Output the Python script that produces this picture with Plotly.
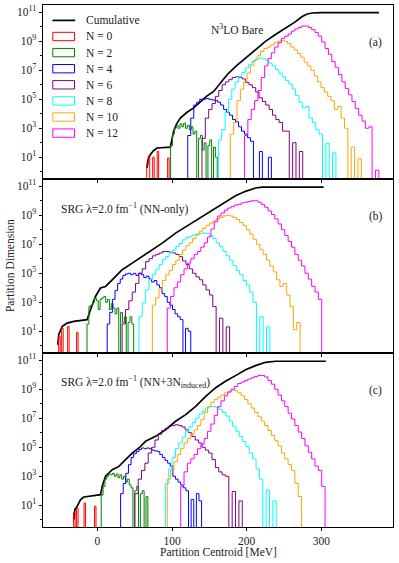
import plotly.graph_objects as go
from plotly.subplots import make_subplots

# histogram values are log10(partition dimension) per bin, None = empty bin
# bins: (first edge [MeV], bin width [MeV])

# ---- panel (a): N3LO bare ----
bare_cum_x = [66.3, 67.5, 70.7, 75, 79.7, 90, 97.6, 102, 106, 111, 120, 128.9, 137.9, 146,
              155.7, 165, 173.7, 186, 198.3, 212, 225.1, 238, 252, 264, 274.4, 281, 287.8, 300, 377.2]
bare_cum = [0.26, 0.8, 1.18, 1.45, 1.64, 1.66, 1.7, 2.78, 3.3, 3.7, 4.1, 4.4, 4.85, 5.2,
            5.54, 6.1, 6.69, 7.3, 7.84, 8.4, 8.99, 9.45, 9.91, 10.3, 10.71, 10.88, 10.95, 10.97, 10.97]
bare_bins = {0: (66, 2.0), 2: (98, 2.5), 4: (121, 4.0), 6: (140, 4.5),
             8: (162, 4.5), 10: (178, 4.5), 12: (197, 4.5)}
bare_n0 = [0.5, 1.1, None, None, 1.0, None, None, 1.4, None, None, None, None, None, None, 0.95]
bare_n2 = [1.8, 2.6, 3.0, 3.2, 3.0, 3.3, 3.1, 3.35, 3.0, 3.2, 2.9, 3.1, 2.6, 2.8, None,
           2.3, 2.5, 1.5, 2.0, None, 1.8, 2.2, None, 1.7, 1.0]
bare_n4 = [2.5, 3.7, 4.6, 4.8, 5.0, 5.0, 5.05, 5.0, 4.95, 4.9, 4.8, 4.6, 4.3, 4.1, 3.9,
           3.6, 3.45, 3.1, 2.8, 2.6, 2.35, 2.1, None, None, 1.4, None, None, 1.0]
bare_n6 = [2.3, 3.7, 4.3, 4.7, 5.2, 5.6, 6.0, 6.2, 6.35, 6.5, 6.55, 6.5, 6.4, 6.15, 6.0,
           5.8, 5.5, 5.1, 4.85, 4.6, 4.3, 3.9, 3.6, 3.4, 2.8, 2.8, None, 2.0, None, 1.4]
bare_n8 = [2.2, 2.9, 4.1, 5.0, 5.7, 6.2, 6.55, 6.85, 7.15, 7.4, 7.6, 7.75, 7.85, 7.8, 7.7,
           7.5, 7.3, 7.05, 6.8, 6.55, 6.3, 6.05, 5.7, 5.25, 4.8, 4.4, 4.5, 3.7, 3.4, 2.9,
           2.6, None, 1.95, None, 1.3]
bare_n10 = [2.6, 3.4, 4.9, 5.7, 6.2, 6.8, 7.3, 7.7, 8.0, 8.3, 8.5, 8.6, 8.75, 8.9, 9.0,
            9.05, 9.0, 8.85, 8.6, 8.4, 8.15, 7.9, 7.55, 7.3, 7.0, 6.6, 6.2, 5.8, 5.5, 5.2,
            4.9, 4.3, 4.5, 3.7, 3.0, None, 1.7, None, 0.9]
bare_n12 = [2.5, 3.6, 4.3, 4.9, 5.6, 6.5, 7.3, 7.8, 8.2, 8.6, 8.9, 9.2, 9.35, 9.5, 9.7,
            9.85, 9.95, 10.05, 10.05, 9.95, 9.8, 9.6, 9.35, 8.95, 8.5, 8.1, 7.6, 7.2, 6.7,
            6.2, 5.75, 5.3, 4.85, 4.35, 3.9, 3.5, 3.0, 3.1, None, 0.1]

# ---- panel (b): SRG NN-only ----
srg_cum_x = [-53.2, -51.9, -47.4, -40.7, -31.7, -13.9, -9.4, -2.7, 4.0, 10.8, 19.7, 33.1,
             46.6, 60, 73.4, 86.8, 104.7, 122.6, 140.5, 158, 171.5, 185, 198.4, 211.8, 220.8, 303]
srg_cum = [0.07, 0.76, 1.33, 1.56, 1.68, 1.8, 2.48, 3.4, 3.98, 4.09, 4.55, 5.24,
           5.7, 6.16, 6.62, 7.08, 7.77, 8.35, 8.92, 9.5, 9.96, 10.35, 10.65, 10.88, 10.94, 10.94]
srg_bins = {0: (-52, 2.0), 2: (-14, 2.5), 4: (13, 3.5), 6: (33, 4.5),
            8: (55.5, 4.5), 10: (73.5, 4.5), 12: (93.5, 4.5)}
srg_n0 = [0.65, None, 1.2, None, None, None, 1.33, None, None, None, None, None, 0.92]
srg_n2 = [1.5, 2.7, 2.8, 3.0, 3.3, 3.1, 2.5, 3.2, 3.3, 3.4, 3.0, 3.2, 2.5, 2.9, 2.6,
          2.2, 2.6, None, 2.3, 1.6, 2.0, None, 1.6, 2.0, 1.5]
srg_n4 = [1.5, 2.3, 3.2, 3.8, 4.3, 4.6, 4.85, 4.95, 5.0, 4.9, 5.0, 4.85, 5.0, 4.9, 4.7,
          4.8, 4.6, 4.4, 4.5, 4.2, 4.0, 3.6, 3.4, 3.0, 2.8, 2.5, 2.2, 2.0, 1.8, None, 1.2, 1.0]
srg_n6 = [1.5, 2.5, 3.1, 3.7, 4.3, 5.0, 5.3, 5.8, 6.0, 6.2, 6.3, 6.4, 6.5, 6.5, 6.45,
          6.4, 6.3, 6.15, 5.85, 5.6, 5.3, 5.0, 4.75, 4.55, 4.2, 3.85, 3.5, 2.7, None,
          1.9, None, 1.3]
srg_n8 = [2.0, 2.95, 3.85, 4.55, 4.9, 5.25, 5.6, 5.93, 6.15, 6.4, 6.6, 6.85, 7.05, 7.3,
          7.45, 7.55, 7.65, 7.7, 7.75, 7.77, 7.75, 7.6, 7.4, 7.1, 6.85, 6.5, 6.2, 5.9,
          5.55, 5.2, 4.9, 4.5, 4.2, 3.7, 3.0, None, 2.0, None, 1.3]
srg_n10 = [2.8, 3.3, 3.9, 4.5, 4.9, 5.2, 5.6, 5.9, 6.3, 6.6, 6.9, 7.1, 7.4, 7.65, 7.9,
           8.1, 8.3, 8.45, 8.6, 8.75, 8.85, 8.95, 9.0, 8.95, 8.85, 8.7, 8.5, 8.3, 8.0,
           7.7, 7.35, 7.0, 6.65, 6.3, 5.9, 5.5, 5.1, 4.55, 4.1, 4.3, 3.5, 2.7, 1.1, 1.6]
srg_n12 = [2.6, 3.4, 4.0, 4.4, 4.9, 5.3, 5.7, 6.0, 6.3, 6.5, 6.8, 7.1, 7.5, 8.05, 8.55,
           8.95, 9.15, 9.35, 9.5, 9.6, 9.7, 9.75, 9.85, 9.9, 9.95, 10.0, 10.0, 9.9, 9.75,
           9.55, 9.3, 9.05, 8.75, 8.4, 8.0, 7.6, 7.2, 6.8, 6.3, 5.9, 5.5, 5.0, 4.6, 4.1, 3.7, 3.2]

# ---- panel (c): SRG NN+3N induced ----
ind_cum_x = [-31.7, -30.3, -27.2, -22.7, -18.2, -11.5, 4.2, 6.3, 10.8, 19.8, 28.7, 37.6,
             46.6, 55.5, 64.5, 77.9, 91.3, 104.7, 118.2, 131.6, 145, 158, 171.5, 185,
             198.4, 211.8, 225.3, 238.7, 306]
ind_cum = [0.0, 0.7, 0.93, 1.39, 1.57, 1.62, 1.73, 2.3, 3.0, 3.45, 3.68, 4.14,
           4.6, 4.95, 5.41, 5.75, 6.21, 6.79, 7.25, 7.82, 8.51, 9.09, 9.55, 9.94,
           10.35, 10.63, 10.86, 10.93, 10.93]
ind_bins = {0: (-32, 2.0), 2: (5, 2.5), 4: (31, 3.5), 6: (50, 4.5),
            8: (91, 4.5), 10: (93.5, 4.5), 12: (111.5, 4.5)}
ind_n0 = [0.5, None, 0.8, None, None, None, None, 1.15, None, None, None, None, None, None, 0.93]
ind_n2 = [1.7, 2.3, 2.8, 3.0, 3.15, 3.1, 3.2, 3.0, 3.15, 2.9, 3.1, 2.8, 3.0, 2.6, 2.8,
          2.4, 2.2, None, 2.0, 2.3, None, 1.8, 2.0, None, 1.6]
ind_n4 = [1.8, 2.5, 3.2, 3.8, 4.3, 4.55, 4.7, 4.85, 4.95, 4.9, 4.95, 4.9, 4.8, 4.75, 4.7,
          4.5, 4.3, 4.1, 3.9, 3.7, 3.0, 2.8, 2.6, 2.4, 2.2, 2.0, None, 1.4, None, 1.8, 1.3]
ind_n6 = [1.8, 2.8, 3.4, 3.9, 4.6, 5.0, 5.5, 5.9, 6.15, 6.3, 6.45, 6.5, 6.55, 6.5, 6.4,
          6.2, 6.0, 5.75, 5.5, 5.3, 5.0, 4.8, 4.6, 4.15, 3.6, 3.3, 3.1, 3.0, None, 1.95, None, 1.3]
ind_n8 = [2.5, 3.5, 4.3, 4.9, 5.3, 5.7, 6.1, 6.4, 6.7, 7.0, 7.3, 7.5, 7.7, 7.8, 7.8,
          7.75, 7.6, 7.4, 7.15, 6.8, 6.45, 6.1, 5.75, 5.4, 5.05, 4.6, 4.2, 3.5, 2.8,
          None, 2.05, None, 1.3]
ind_n10 = [2.8, 3.4, 4.0, 4.5, 4.9, 5.3, 5.6, 5.9, 6.2, 6.5, 6.9, 7.4, 7.8, 8.1, 8.3,
           8.45, 8.6, 8.75, 8.85, 8.95, 8.9, 8.75, 8.55, 8.3, 8.0, 7.7, 7.4, 7.1, 6.8,
           6.5, 6.15, 5.8, 5.45, 5.1, 4.6, 4.2, 3.8, 3.4, 2.5, 1.6]
ind_n12 = [2.3, 3.3, 3.9, 4.2, 4.5, 4.9, 5.2, 5.6, 6.1, 6.6, 7.2, 7.8, 8.2, 8.55, 8.8,
           9.0, 9.2, 9.4, 9.5, 9.6, 9.7, 9.8, 9.88, 9.95, 9.95, 9.85, 9.6, 9.35, 9.0,
           8.6, 8.2, 7.8, 7.35, 6.95, 6.5, 6.05, 5.6, 5.1, 4.65, 4.2, 3.7, 3.4, 2.3]

N_VALUES = [0, 2, 4, 6, 8, 10, 12]
COLORS = ['#ff0000', '#008000', '#0000ff', '#800080', '#00ffff', '#ffa500', '#ff00ff']
FONT = 'Liberation Serif'
FS = 11.5
TXT = '#222'
FLOOR = 1e-3  # empty bins: drawn below the axis bottom

panels = [
    (bare_cum_x, bare_cum, bare_bins, [bare_n0, bare_n2, bare_n4, bare_n6, bare_n8, bare_n10, bare_n12]),
    (srg_cum_x, srg_cum, srg_bins, [srg_n0, srg_n2, srg_n4, srg_n6, srg_n8, srg_n10, srg_n12]),
    (ind_cum_x, ind_cum, ind_bins, [ind_n0, ind_n2, ind_n4, ind_n6, ind_n8, ind_n10, ind_n12]),
]


def step_xy(start, width, logs):
    xs, ys = [start], [FLOOR]
    for i, v in enumerate(logs):
        xs.append(start + i * width)
        ys.append(FLOOR if v is None else 10 ** v)
    xs.append(start + len(logs) * width)
    ys.append(FLOOR)
    return xs, ys


fig = make_subplots(rows=3, cols=1, shared_xaxes=True, vertical_spacing=0)

for row, (cx, cy, bins, hists) in enumerate(panels, start=1):
    fig.add_trace(go.Scatter(x=cx, y=[10 ** v for v in cy], mode='lines',
                             line=dict(color='black', width=1.7),
                             showlegend=False, hoverinfo='skip'), row=row, col=1)
    for n, color, logs in zip(N_VALUES, COLORS, hists):
        start, width = bins[n]
        xs, ys = step_xy(start, width, logs)
        fig.add_trace(go.Scatter(x=xs, y=ys, mode='lines',
                                 line=dict(color=color, width=1, shape='hv'),
                                 showlegend=False, hoverinfo='skip'), row=row, col=1)

    fig.update_yaxes(type='log', range=[-0.5, 11.5], automargin=False,
                     tickvals=[10 ** k for k in (1, 3, 5, 7, 9, 11)],
                     ticktext=['10<sup>%d</sup>' % k for k in (1, 3, 5, 7, 9, 11)],
                     minor=dict(tickvals=[10 ** k for k in (0, 2, 4, 6, 8, 10)],
                                ticks='outside', ticklen=2, tickcolor='black'),
                     ticks='outside', ticklen=3.5, tickcolor='black', tickwidth=0.8,
                     tickfont=dict(size=FS),
                     showline=True, mirror=True, linecolor='black', linewidth=1,
                     showgrid=False, zeroline=False, row=row, col=1)
    fig.update_xaxes(range=[-73, 396], tickvals=[0, 100, 200, 300], automargin=False,
                     ticks='outside', ticklen=3, tickcolor='black', tickwidth=0.8,
                     tickfont=dict(size=FS), ticklabelstandoff=0,
                     showline=True, mirror=True, linecolor='black', linewidth=1,
                     showgrid=False, zeroline=False, showticklabels=(row == 3),
                     row=row, col=1)

annotations = []
# panel descriptions and labels
panel_text = [
    ('N<sup>3</sup>LO Bare', 0.475, 0.864),
    ('SRG λ=2.0 fm<sup>−1</sup> (NN-only)', 0.045, 0.833),
    ('SRG λ=2.0 fm<sup>−1</sup> (NN+3N<sub>induced</sub>)', 0.045, 0.831),
]
for i, (txt, tx, ty) in enumerate(panel_text):
    ax = '' if i == 0 else str(i + 1)
    annotations.append(dict(text=txt, x=tx, y=ty, xref='x%s domain' % ax, yref='y%s domain' % ax,
                            xanchor='left', yanchor='middle', showarrow=False,
                            font=dict(size=FS, color=TXT)))
    annotations.append(dict(text='(%s)' % 'abc'[i], x=0.95, y=0.785,
                            xref='x%s domain' % ax, yref='y%s domain' % ax,
                            xanchor='center', yanchor='middle', showarrow=False,
                            font=dict(size=FS, color=TXT)))

# legend drawn in panel (a)
shapes = []
leg_labels = ['Cumulative'] + ['N = %d' % n for n in N_VALUES]
leg_colors = ['black'] + COLORS
row_h = 16.1 / 174.0
for i, (lab, col) in enumerate(zip(leg_labels, leg_colors)):
    yc = 0.9115 - i * row_h
    if i == 0:
        shapes.append(dict(type='line', xref='x domain', yref='y domain',
                           x0=0.027, x1=0.092, y0=yc, y1=yc,
                           line=dict(color=col, width=1.7)))
    else:
        shapes.append(dict(type='rect', xref='x domain', yref='y domain',
                           x0=0.028, x1=0.09, y0=yc - 0.024, y1=yc + 0.024,
                           line=dict(color=col, width=1), fillcolor='rgba(0,0,0,0)'))
    annotations.append(dict(text=lab, x=0.116, y=yc, xref='x domain', yref='y domain',
                            xanchor='left', yanchor='middle', showarrow=False,
                            font=dict(size=FS, color=TXT)))

annotations.append(dict(text='Partition Dimension', x=-0.094, y=0.5, xref='paper', yref='paper',
                        textangle=-90, xanchor='center', yanchor='middle', showarrow=False,
                        font=dict(size=FS, color=TXT)))
annotations.append(dict(text='Partition Centroid [MeV]', x=0.5, y=-0.047, xref='paper', yref='paper',
                        xanchor='center', yanchor='middle', showarrow=False,
                        font=dict(size=FS, color=TXT)))

fig.update_layout(width=399, height=563, margin=dict(l=43, r=6, t=5, b=36),
                  plot_bgcolor='white', paper_bgcolor='white',
                  font=dict(family=FONT, size=FS, color=TXT),
                  annotations=annotations, shapes=shapes, showlegend=False)

# drop the default page margin so the figure sits at the window origin
fig.write_html('out.html', config={'displayModeBar': False},
               post_script="document.body.style.margin='0';")
